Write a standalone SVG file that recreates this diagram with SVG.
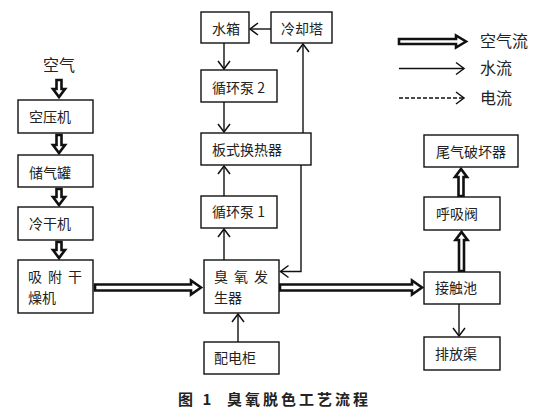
<svg xmlns="http://www.w3.org/2000/svg" width="547" height="417" viewBox="0 0 547 417">
<defs>
<marker id="ah" markerUnits="userSpaceOnUse" markerWidth="12" markerHeight="14" refX="8" refY="6" orient="auto" overflow="visible">
<path d="M0,0 L8,6 L0,12" fill="none" stroke="#111" stroke-width="1.5"/>
</marker>
<style>
.box{fill:#fff;stroke:#111;stroke-width:1.4}
.t{font-family:"Noto Sans CJK SC","Liberation Sans",sans-serif;font-size:14px;fill:#222}
.lg{font-family:"Noto Sans CJK SC","Liberation Sans",sans-serif;font-size:16px;fill:#222}
.thin{fill:none;stroke:#111;stroke-width:1.4}
.hol{fill:#fff;stroke:#111;stroke-width:2.6;stroke-linejoin:miter}
.cap{font-family:"Noto Sans CJK SC","Liberation Sans",sans-serif;font-size:15px;font-weight:bold;fill:#222}
</style>
</defs>
<rect width="547" height="417" fill="#fff"/>

<g id="connectors">
<line class="thin" x1="271" y1="29" x2="250" y2="29" marker-end="url(#ah)"/>
<line class="thin" x1="224" y1="43" x2="224" y2="69" marker-end="url(#ah)"/>
<line class="thin" x1="224" y1="102" x2="224" y2="132" marker-end="url(#ah)"/>
<line class="thin" x1="224" y1="196" x2="224" y2="166" marker-end="url(#ah)"/>
<line class="thin" x1="224" y1="260" x2="224" y2="229" marker-end="url(#ah)"/>
<line class="thin" x1="238" y1="342" x2="238" y2="314" marker-end="url(#ah)"/>
<line class="thin" x1="303" y1="133" x2="303" y2="44" marker-end="url(#ah)"/>
<path class="thin" d="M301,165 V271.5 H280.5" marker-end="url(#ah)"/>
<line class="thin" x1="459" y1="304" x2="459" y2="336" marker-end="url(#ah)"/>

<polygon class="hol" points="56.5,80 61.5,80 61.5,89 65,89 59,97 53,89 56.5,89"/>
<polygon class="hol" points="56.5,135 61.5,135 61.5,145 65,145 59,153 53,145 56.5,145"/>
<polygon class="hol" points="56.5,189 61.5,189 61.5,197 65,197 59,205 53,197 56.5,197"/>
<polygon class="hol" points="56.5,242 61.5,242 61.5,250 65,250 59,258 53,250 56.5,250"/>
<polygon class="hol" points="95,284.5 191,284.5 191,280.5 201,287.5 191,294.5 191,290.5 95,290.5"/>
<polygon class="hol" points="280,284.5 412,284.5 412,280.5 422,287.5 412,294.5 412,290.5 280,290.5"/>
<polygon class="hol" points="459,271 464,271 464,240 467.5,240 461.5,232 455.5,240 459,240"/>
<polygon class="hol" points="458.5,196 463.5,196 463.5,177 467,177 461,169 455,177 458.5,177"/>
</g>

<g id="legend">
<polygon class="hol" points="399,39 456,39 456,35.5 466,41.5 456,47.5 456,44 399,44"/>
<text class="lg" x="480" y="47">空气流</text>
<line class="thin" x1="399" y1="68.5" x2="464" y2="68.5" marker-end="url(#ah)"/>
<text class="lg" x="480" y="74">水流</text>
<line class="thin" x1="399" y1="98" x2="464" y2="98" stroke-dasharray="4 2" marker-end="url(#ah)"/>
<text class="lg" x="480" y="104">电流</text>
</g>

<g id="air-label"><text class="lg" x="43" y="71">空气</text></g>

<g id="n-shuixiang"><rect class="box" x="201" y="12" width="48" height="31"/><text class="t" x="212" y="34">水箱</text></g>
<g id="n-lengqueta"><rect class="box" x="271" y="12" width="61" height="31"/><text class="t" x="281" y="34">冷却塔</text></g>
<g id="n-xunhuanbeng2"><rect class="box" x="201" y="70" width="76" height="32"/><text class="t" x="212" y="93">循环泵 2</text></g>
<g id="n-banshi"><rect class="box" x="201" y="133" width="110" height="32"/><text class="t" x="212" y="155">板式换热器</text></g>
<g id="n-xunhuanbeng1"><rect class="box" x="201" y="196" width="76" height="32"/><text class="t" x="212" y="217">循环泵 1</text></g>
<g id="n-chouyang"><rect class="box" x="204" y="260" width="75" height="53"/><text class="t" x="214" y="282" letter-spacing="6">臭氧发</text><text class="t" x="214" y="303">生器</text></g>
<g id="n-peidiangui"><rect class="box" x="204" y="342" width="75" height="32"/><text class="t" x="214" y="363">配电柜</text></g>
<g id="n-kongyaji"><rect class="box" x="18" y="100" width="75" height="33"/><text class="t" x="29" y="122">空压机</text></g>
<g id="n-chuqiguan"><rect class="box" x="18" y="155" width="75" height="32"/><text class="t" x="29" y="178">储气罐</text></g>
<g id="n-lenganji"><rect class="box" x="18" y="207" width="75" height="33"/><text class="t" x="29" y="229">冷干机</text></g>
<g id="n-xifu"><rect class="box" x="18" y="260" width="75" height="53"/><text class="t" x="28" y="282" letter-spacing="6">吸附干</text><text class="t" x="28" y="303">燥机</text></g>
<g id="n-weiqi"><rect class="box" x="424" y="135" width="94" height="32"/><text class="t" x="436" y="157">尾气破坏器</text></g>
<g id="n-huxifa"><rect class="box" x="424" y="197" width="76" height="33"/><text class="t" x="436" y="219">呼吸阀</text></g>
<g id="n-jiechuchi"><rect class="box" x="424" y="272" width="76" height="32"/><text class="t" x="435" y="293">接触池</text></g>
<g id="n-paifangqu"><rect class="box" x="424" y="337" width="76" height="33"/><text class="t" x="435" y="359">排放渠</text></g>

<g id="caption"><text class="cap" y="405"><tspan x="178" letter-spacing="3">图 1</tspan><tspan x="227" letter-spacing="3">臭氧脱色工艺流程</tspan></text></g>
</svg>
